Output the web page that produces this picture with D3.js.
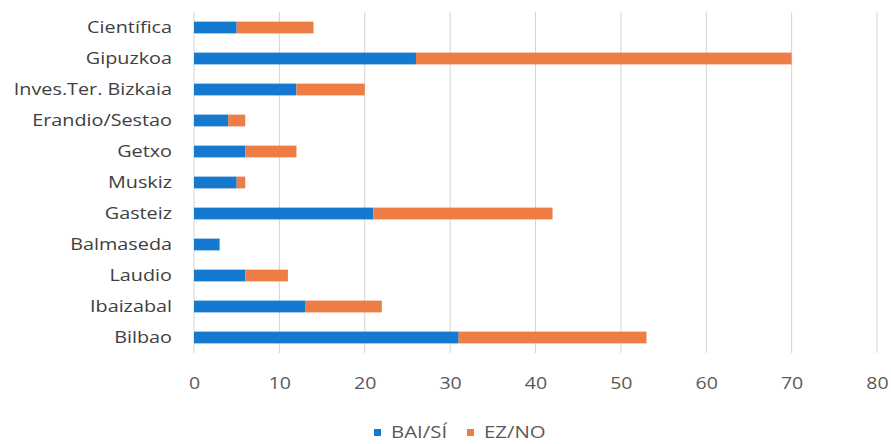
<!DOCTYPE html>
<html>
<head>
<meta charset="utf-8">
<script src="https://cdn.jsdelivr.net/npm/d3@7"></script>
<style>
  html, body { margin: 0; padding: 0; background: #ffffff; }
  svg { display: block; font-family: "Open Sans", "Lato", sans-serif; }
</style>
</head>
<body>
<svg id="chart" width="891" height="444"></svg>
<script>
// Categories, top to bottom
const categories = ["Científica", "Gipuzkoa", "Inves.Ter. Bizkaia", "Erandio/Sestao", "Getxo",
  "Muskiz", "Gasteiz", "Balmaseda", "Laudio", "Ibaizabal", "Bilbao"];
// Answers per category
const baiSi = [5, 26, 12, 4, 6, 5, 21, 3, 6, 13, 31];
const ezNo  = [9, 44, 8, 2, 6, 1, 21, 0, 5, 9, 22];
const seriesNames = ["BAI/SÍ", "EZ/NO"];
const seriesColors = ["#1479cf", "#ed7d45"];
const xTicks = [0, 10, 20, 30, 40, 50, 60, 70, 80];

const svg = d3.select("#chart");
const margin = { left: 194, right: 14, top: 12, bottom: 91 };
const W = 891, H = 444;
const fontFamily = "'Open Sans', Lato, sans-serif";
const stretch = 1.2; // wide lettering

const x = d3.scaleLinear().domain([0, 80]).range([margin.left, W - margin.right]);
const y = d3.scaleBand().domain(categories).range([margin.top, H - margin.bottom]).paddingInner(0.62).paddingOuter(0.31);

// Vertical gridlines
svg.append("g").selectAll("line").data(xTicks).join("line")
  .attr("x1", d => x(d)).attr("x2", d => x(d))
  .attr("y1", margin.top).attr("y2", H - margin.bottom)
  .attr("stroke", "#d4d4d4").attr("stroke-width", 1);

// Stacked bars
const rows = categories.map((c, i) => ({ cat: c, "BAI/SÍ": baiSi[i], "EZ/NO": ezNo[i] }));
const stacked = d3.stack().keys(seriesNames)(rows);
svg.append("g").selectAll("g").data(stacked).join("g")
  .attr("fill", (d, i) => seriesColors[i])
  .selectAll("rect").data(d => d).join("rect")
  .attr("x", d => x(d[0]))
  .attr("width", d => x(d[1]) - x(d[0]))
  .attr("y", d => y(d.data.cat))
  .attr("height", y.bandwidth());

// Category axis
const yAxis = svg.append("g").attr("transform", `translate(${margin.left},0)`)
  .call(d3.axisLeft(y).tickSize(0).tickPadding(0));
yAxis.select(".domain").remove();
yAxis.selectAll("text")
  .attr("x", -22 / stretch)
  .attr("transform", `scale(${stretch},1)`)
  .attr("font-size", 16.5).attr("fill", "#404040")
  .style("font-family", fontFamily);

// Value axis
const xAxis = svg.append("g").attr("transform", `translate(0,${H - margin.bottom})`)
  .call(d3.axisBottom(x).tickValues(xTicks).tickSize(0).tickPadding(24));
xAxis.select(".domain").remove();
xAxis.selectAll("text")
  .attr("transform", `scale(1.15,1)`)
  .attr("font-size", 17).attr("fill", "#595959")
  .style("font-family", fontFamily);

// Legend
const legend = svg.append("g").attr("transform", "translate(374,432)");
const items = [{ name: seriesNames[0], color: seriesColors[0], dx: 0 }, { name: seriesNames[1], color: seriesColors[1], dx: 93 }];
items.forEach(it => {
  const g = legend.append("g").attr("transform", `translate(${it.dx},0)`);
  g.append("rect").attr("x", 0).attr("y", -3).attr("width", 7).attr("height", 7).attr("fill", it.color);
  g.append("text").attr("x", 17 / stretch).attr("y", 0).attr("dy", "0.35em")
    .attr("transform", `scale(${stretch},1)`)
    .attr("font-size", 17).attr("fill", "#595959").style("font-family", fontFamily).text(it.name);
});
</script>
</body>
</html>
